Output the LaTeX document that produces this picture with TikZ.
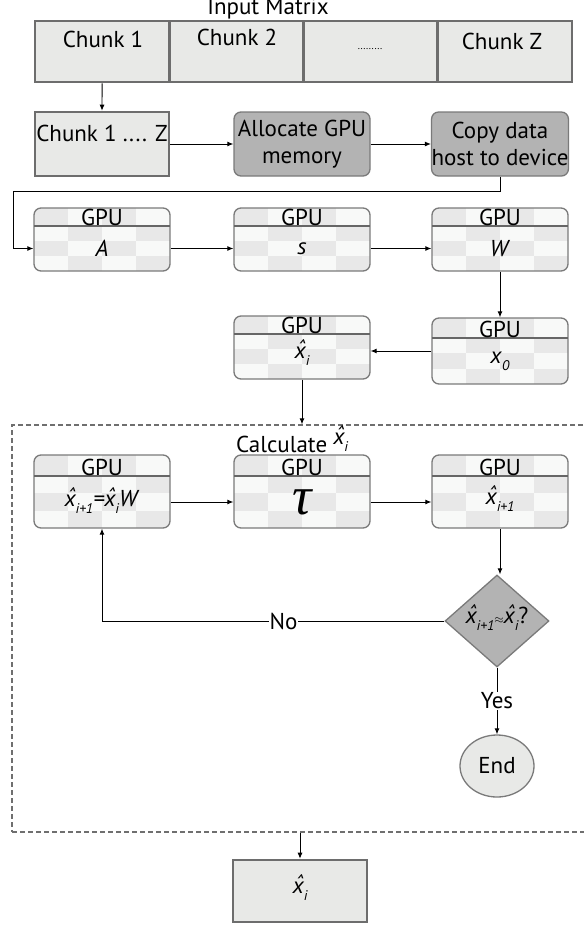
\documentclass[tikz,border=0pt]{standalone}
\usepackage{fontspec}
\setmainfont{PT Sans}
\newfontfamily\serifgr{Liberation Serif}
\usetikzlibrary{arrows.meta,shapes.geometric}
\definecolor{boxfill}{HTML}{E8E9E7}
\definecolor{boxedge}{HTML}{6D6D6D}
\definecolor{darkfill}{HTML}{B3B3B3}
\definecolor{darkedge}{HTML}{7A7A7A}
\definecolor{cellD}{HTML}{E8E8E8}
\definecolor{cellL}{HTML}{F8F9F8}
\definecolor{gpuedge}{HTML}{7A7A7A}
\definecolor{hdrline}{HTML}{666666}
\definecolor{dashcol}{HTML}{6F6F6F}
\newcommand{\subs}[1]{\raisebox{-0.6ex}{\fontsize{14}{14}\selectfont\itshape #1}}
\newcommand{\xhat}{{\itshape\ooalign{x\cr\hidewidth\raisebox{0.2ex}{\char"02C6}\hidewidth\cr}}}
\newcommand{\gpubox}[6]{%
 \begin{scope}
 \clip[rounded corners=7pt] ({#2-68},#3) rectangle ({#2+68},{#3+#4});
 \fill[cellL] ({#2-68},#3) rectangle ({#2+68},{#3+#4});
 \pgfmathsetmacro\rh{(#4-#5)/3}
 \fill[cellD] ({#2-68},#3) rectangle ({#2-34},{#3+#5});
 \fill[cellD] ({#2},#3) rectangle ({#2+34},{#3+#5});
 \fill[cellD] ({#2-34},{#3+#5}) rectangle ({#2},{#3+#5+\rh});
 \fill[cellD] ({#2+34},{#3+#5}) rectangle ({#2+68},{#3+#5+\rh});
 \fill[cellD] ({#2-68},{#3+#5+\rh}) rectangle ({#2-34},{#3+#5+2*\rh});
 \fill[cellD] ({#2},{#3+#5+\rh}) rectangle ({#2+34},{#3+#5+2*\rh});
 \fill[cellD] ({#2-34},{#3+#5+2*\rh}) rectangle ({#2},{#3+#4});
 \fill[cellD] ({#2+34},{#3+#5+2*\rh}) rectangle ({#2+68},{#3+#4});
 \end{scope}
 \node[gframe, minimum height=#4pt] (#1) at (#2,{#3+#4/2}) {};
 \draw[hdr] ({#2-68},{#3+#5}) -- ({#2+68},{#3+#5});
 \node[lbl, anchor=base] (#1-h) at (#2,{#3+#5-0.5}) {GPU};
 \node[lbl] (#1-c) at (#2,{#3+#5+(#4-#5)/2}) {#6};
}
\begin{document}
\begin{tikzpicture}[x=1pt,y=-1pt, font=\fontsize{23}{27}\selectfont,
 arr/.style={-{Latex[length=6pt,width=5pt]}, line width=0.9pt},
 chunkbox/.style={draw=boxedge, line width=2.6pt, fill=boxfill, minimum width=134pt, minimum height=62pt, inner sep=0},
 graybox/.style={draw=darkedge, line width=1.3pt, fill=darkfill, rounded corners=7pt, minimum width=136pt, minimum height=64pt, inner sep=0, align=center},
 gframe/.style={draw=gpuedge, line width=1.3pt, rounded corners=7pt, inner sep=0, minimum width=136pt},
 hdr/.style={draw=hdrline, line width=1.4pt},
 lbl/.style={inner sep=0},
 tag/.style={fill=white, inner sep=1pt},
]
\useasboundingbox (0,0) rectangle (584,930);
% top row
\node[chunkbox, minimum width=134.25pt, minimum height=61pt] (ch1) at (102.1,51.5) {};
\node[chunkbox, minimum width=134.25pt, minimum height=61pt] (ch2) at (236.4,51.5) {};
\node[chunkbox, minimum width=134.25pt, minimum height=61pt] (ch3) at (370.6,51.5) {};
\node[chunkbox, minimum width=134.25pt, minimum height=61pt] (ch4) at (504.9,51.5) {};
\node[lbl] (inlbl) at (268,9) {Input Matrix};
\node[lbl] (ch1l) at (103,39) {Chunk 1};
\node[lbl] (ch2l) at (237,37) {Chunk 2};
\node[lbl, font=\fontsize{10}{10}\selectfont] (ch3l) at (370,49) {.........};
\node[lbl] (ch4l) at (502,41) {Chunk Z};
% row 2
\node[chunkbox, minimum width=134pt, minimum height=64pt] (chall) at (102,144) {};
\node[lbl] (challl) at (102,133) {Chunk 1 .... Z};
\node[graybox] (alloc) at (302,144) {Allocate GPU\\memory};
\node[graybox] (copy) at (500,144) {Copy data\\host to device};
\draw[arr] (ch1.south) -- (chall.north);
\draw[arr] (chall.east) -- (alloc.west);
\draw[arr] (alloc.east) -- (copy.west);
% GPU row
\gpubox{gA}{102}{208}{63}{18}{\textit{A}}
\gpubox{gS}{302}{208}{63}{18}{\textit{s}}
\gpubox{gW}{500}{208}{63}{18}{\textit{W}}
\coordinate (c1) at (13,191);
\draw[arr] (copy.south) -- (copy.south |- c1) -- (c1) |- (gA-c -| gA.west);
\draw[arr] (gA-c -| gA.east) -- (gA-c -| gS.west);
\draw[arr] (gS-c -| gS.east) -- (gS-c -| gW.west);
% x0 and xi
\gpubox{gX}{500}{318}{66}{20}{\textit{x}\subs{0}}
\gpubox{gXi}{302}{316}{63}{18}{\xhat\subs{i}}
\draw[arr] (gW.south) -- (gX.north);
\draw[arr] (gX.west) -- (gX.west -| gXi.east);
% dashed region
\node[draw=dashcol, dash pattern=on 5pt off 3pt, line width=1.3pt, minimum width=578pt, minimum height=407pt, inner sep=0] (calcbox) at (301,628.5) {};
\node[lbl, anchor=west] (calclbl) at (236,443) {Calculate \raisebox{0.7ex}{\xhat\subs{i}}};
\draw[arr] (gXi.south) -- (gXi.south |- calcbox.north);
% row 3
\gpubox{gU}{102}{455}{73}{21}{\xhat\subs{i+1}\textit{=}\xhat\subs{i}\textit{W}}
\gpubox{gT}{302}{455}{73}{21}{\raisebox{-4pt}{\serifgr\itshape\fontsize{54}{54}\selectfont τ}}
\gpubox{gN}{500}{455}{73}{21}{\xhat\subs{i+1}}
\draw[arr] (gU-c -| gU.east) -- (gU-c -| gT.west);
\draw[arr] (gT-c -| gT.east) -- (gT-c -| gN.west);
% decision
\node[diamond, draw=darkedge, line width=1.3pt, fill=darkfill, minimum width=104pt, minimum height=92pt, inner sep=0] (dia) at (497,621) {};
\node[lbl] (dial) at (497,619) {\xhat\subs{i+1}{\fontsize{12}{12}\selectfont$\approx$}\xhat\subs{i}?};
\draw[arr] (gN.south) -- (gN.south |- dia.north);
\draw[arr] (dia.west) -- node[tag, pos=0.47] (nolbl) {No} (dia.west -| gU.south) -- (gU.south);
\node[ellipse, draw=darkedge, line width=1.3pt, fill=boxfill, minimum width=74pt, minimum height=62pt, inner sep=0] (endn) at (497,766) {End};
\draw[arr] (dia.south) -- node[tag] (yeslbl) {Yes} (endn.north);
% final
\node[chunkbox, minimum width=134pt, minimum height=62pt] (final) at (300,891) {\xhat\subs{i}};
\draw[arr] (final.north |- calcbox.south) -- (final.north);
\end{tikzpicture}
\end{document}
